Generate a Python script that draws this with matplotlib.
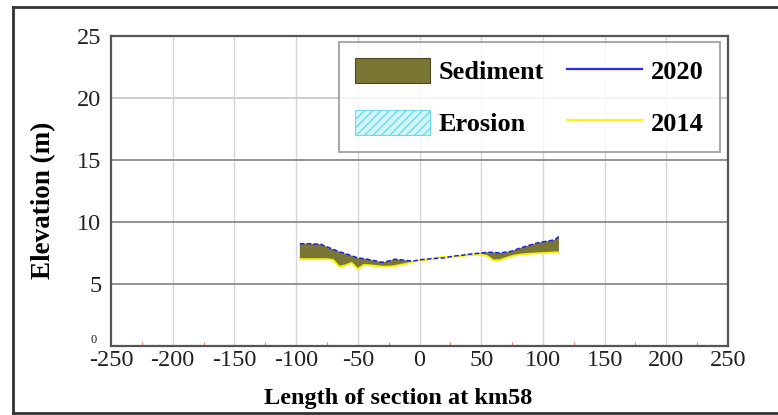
import matplotlib
matplotlib.use("Agg")
import matplotlib.pyplot as plt
import numpy as np
from matplotlib.patches import Patch
from matplotlib.lines import Line2D
from matplotlib.transforms import ScaledTranslation

# Cross-section at km58: bed elevation surveyed in 2014 and 2020
distance = [-97, -90, -80, -75, -70, -65, -60, -55, -50, -45, -40, -35, -30,
            -25, -20, -15, -10, -5, 0, 5, 10, 15, 20, 25, 30, 35, 40, 45,
            50, 55, 60, 65, 70, 75, 80, 85, 90, 95, 100, 105, 110, 113]
elev_2020 = [8.25, 8.25, 8.2, 8.0, 7.8, 7.6, 7.45, 7.28, 7.1, 7.05, 6.95, 6.85,
             6.75, 6.85, 7.0, 6.95, 6.88, 6.85, 6.95, 7.0, 7.05, 7.08, 7.1,
             7.2, 7.28, 7.32, 7.4, 7.45, 7.5, 7.56, 7.55, 7.5, 7.58, 7.65,
             7.85, 8.0, 8.15, 8.3, 8.4, 8.48, 8.58, 8.85]
elev_2014 = [7.0, 7.0, 7.0, 7.0, 6.95, 6.4, 6.5, 6.7, 6.2, 6.55, 6.5, 6.45,
             6.4, 6.4, 6.45, 6.55, 6.65, 6.8, 6.9, 6.95, 7.0, 7.14, 7.18,
             7.18, 7.22, 7.28, 7.32, 7.35, 7.38, 7.25, 6.9, 6.92, 7.1, 7.25,
             7.35, 7.4, 7.44, 7.47, 7.5, 7.52, 7.55, 7.55]

x_ticks = [-250, -200, -150, -100, -50, 0, 50, 100, 150, 200, 250]
y_ticks = [0, 5, 10, 15, 20, 25]

serif = ["Liberation Serif", "DejaVu Serif"]
plt.rcParams["font.family"] = serif

W, H = 778, 415
fig = plt.figure(figsize=(W / 100, H / 100), dpi=100)
ax = fig.add_axes([111 / W, (H - 346) / H, (728 - 111) / W, (346 - 36) / H])

x = np.array(distance, dtype=float)
y20 = np.array(elev_2020)
y14 = np.array(elev_2014)

sed_color = "#7a7634"
ero_face = "#d2f6fa"
ero_hatch = "#6fdbe6"

ax.fill_between(x, y14, y20, where=y20 >= y14, interpolate=True,
                facecolor=sed_color, edgecolor="none", zorder=3)
plt.rcParams["hatch.color"] = ero_hatch
ax.fill_between(x, y14, y20, where=y14 > y20, interpolate=True,
                facecolor=ero_face, edgecolor=ero_hatch, hatch="////",
                linewidth=0, zorder=3)
ax.plot(x, y14, color="#f2f20a", lw=1.4, zorder=4)
ax.plot(x, y20, color="#2020f0", lw=1.1, ls=(0, (3, 1.5)), zorder=5)

ax.set_xlim(-250, 250)
ax.set_ylim(0, 25)
ax.set_xticks(x_ticks)
ax.set_yticks(y_ticks)
ax.set_xticklabels([str(v) for v in x_ticks])
ax.set_yticklabels([str(v) for v in y_ticks])
ax.tick_params(axis="both", length=0, labelsize=17.5, colors="#222222")
ax.tick_params(axis="x", pad=3)
ax.tick_params(axis="y", pad=7)

# Grid: light vertical lines, darker horizontal ones
for xv in x_ticks[1:-1]:
    ax.axvline(xv, color="#d6d6d6", lw=1.0, zorder=1)
for yv, c in [(5, "#8a8a8a"), (10, "#8a8a8a"), (15, "#8a8a8a"), (20, "#cccccc")]:
    ax.axhline(yv, color=c, lw=1.3, zorder=1)

# small red minor ticks along the bottom axis
ax.set_xticks(np.arange(-225, 250, 25), minor=True)
ax.tick_params(axis="x", which="minor", direction="in", length=3,
               color="#e88080", width=0.8)

# the zero label on the elevation axis is printed small, just above the axis
zero_lbl = ax.get_yticklabels()[0]
zero_lbl.set_fontsize(9)
zero_lbl.set_verticalalignment("bottom")
zero_lbl.set_transform(zero_lbl.get_transform()
                       + ScaledTranslation(-5 / 100, 0, fig.dpi_scale_trans))

for s in ax.spines.values():
    s.set_color("#555555")
    s.set_linewidth(1.6)

ax.set_xlabel("Length of section at km58", fontsize=17.5, fontweight="bold")
ax.xaxis.label.set_verticalalignment("center")
ax.xaxis.set_label_coords((398 - 111) / 617, -(398 - 346) / 310)
ax.set_ylabel("Elevation (m)", fontsize=19.5, fontweight="bold")
ax.yaxis.label.set_verticalalignment("center")
ax.yaxis.set_label_coords((44 - 111) / 617, (346 - 200) / 310)

handles = [
    Patch(facecolor=sed_color, edgecolor="#4a4a20", lw=0.8),
    Patch(facecolor=ero_face, edgecolor=ero_hatch, hatch="////", lw=0.8),
    Line2D([], [], color="#2a2af5", lw=1.6),
    Line2D([], [], color="#f5f520", lw=1.6),
]
labels = ["Sediment", "Erosion", "2020", "2014"]
leg = ax.legend(handles, labels, ncol=2, loc="upper right",
                bbox_to_anchor=(720 / W, (H - 42) / H),
                bbox_transform=fig.transFigure,
                prop={"family": serif, "weight": "bold", "size": 19},
                handlelength=2.85, handleheight=1.1, handletextpad=0.35,
                columnspacing=0.85, labelspacing=0.95, borderpad=0.6,
                frameon=True, fancybox=False, borderaxespad=0)
leg.get_frame().set_edgecolor("#8a8a8a")
leg.get_frame().set_linewidth(1.3)
leg.set_zorder(10)

# outer frame around the figure (left, top and bottom edges)
frame_kw = dict(transform=fig.transFigure, color="#333333", lw=2.0)
fig.lines.append(Line2D([13 / W, 13 / W], [(H - 7) / H, (H - 413) / H], **frame_kw))
fig.lines.append(Line2D([13 / W, 1.0], [(H - 7) / H, (H - 7) / H], **frame_kw))
fig.lines.append(Line2D([13 / W, 1.0], [(H - 413) / H, (H - 413) / H], **frame_kw))

fig.savefig("out.png", dpi=100)
